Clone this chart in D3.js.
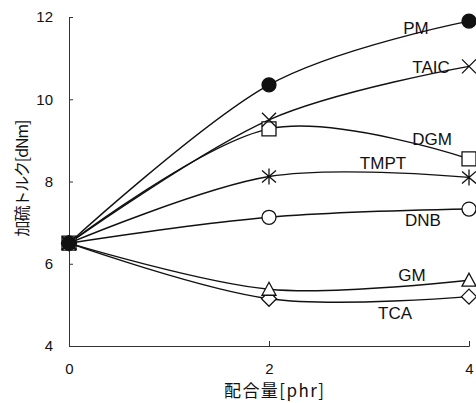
<!DOCTYPE html>
<html>
<head>
<meta charset="utf-8">
<script src="https://cdn.jsdelivr.net/npm/d3@7"></script>
<style>
body { margin: 0; background: #fff; }
svg text { font-family: "Liberation Sans", Arial, sans-serif; fill: #111; }
.jp { font-family: "Noto Sans CJK JP", sans-serif; }
</style>
</head>
<body>
<svg id="chart" width="476" height="403"></svg>
<script>
// compounding amount [phr] vs cure torque [dNm]
var amounts = [0, 2, 4];
var pmValues   = [6.5, 10.35, 11.9];
var taicValues = [6.5, 9.5, 10.8];
var dgmValues  = [6.5, 9.28, 8.55];
var tmptValues = [6.5, 8.12, 8.1];
var dnbValues  = [6.5, 7.13, 7.33];
var gmValues   = [6.5, 5.38, 5.6];
var tcaValues  = [6.5, 5.15, 5.2];
var seriesNames = ["PM", "TAIC", "DGM", "TMPT", "DNB", "GM", "TCA"];
var yTicks = [4, 6, 8, 10, 12];
var xTicks = [0, 2, 4];

var svg = d3.select("#chart");

var x = d3.scaleLinear().domain([0, 4]).range([69, 469]);
var y = d3.scaleLinear().domain([4, 12]).range([346, 17]);

/* marker shapes, drawn around 0,0 */
var markers = {
    filled:   function(p) { p.moveTo(7, 0); p.arc(0, 0, 7, 0, 2 * Math.PI); },
    times:    function(p) { p.moveTo(-7, -7); p.lineTo(7, 7); p.moveTo(7, -7); p.lineTo(-7, 7); },
    square:   function(p) { p.rect(-7, -7, 14, 14); },
    asterisk: function(p) { p.moveTo(-7, -6); p.lineTo(7, 6); p.moveTo(7, -6); p.lineTo(-7, 6);
                            p.moveTo(0, -8); p.lineTo(0, 8); },
    circle:   function(p) { p.moveTo(7, 0); p.arc(0, 0, 7, 0, 2 * Math.PI); },
    triangle: function(p) { p.moveTo(0, -7); p.lineTo(7, 6); p.lineTo(-7, 6); p.closePath(); },
    diamond:  function(p) { p.moveTo(0, -7.5); p.lineTo(7.5, 0); p.lineTo(0, 7.5); p.lineTo(-7.5, 0); p.closePath(); }
};
// which markers go on top where they pile up (at 0 phr)
var markerLayer = {diamond: 0, triangle: 1, circle: 2, square: 3, filled: 4, times: 5, asterisk: 6};

// label spots are given in data units so they follow the scales
var series = [
    {name: seriesNames[0], values: pmValues,   marker: "filled",   lx: 3.47, ly: 11.73},
    {name: seriesNames[1], values: taicValues, marker: "times",    lx: 3.62, ly: 10.78},
    {name: seriesNames[2], values: dgmValues,  marker: "square",   lx: 3.63, ly: 9.03},
    {name: seriesNames[3], values: tmptValues, marker: "asterisk", lx: 3.14, ly: 8.45},
    {name: seriesNames[4], values: dnbValues,  marker: "circle",   lx: 3.54, ly: 7.06},
    {name: seriesNames[5], values: gmValues,   marker: "triangle", lx: 3.43, ly: 5.73},
    {name: seriesNames[6], values: tcaValues,  marker: "diamond",  lx: 3.26, ly: 4.80}
];

/* axes */
var yAxis = svg.append("g")
    .attr("transform", "translate(" + x(0) + ",0)")
    .call(d3.axisLeft(y).tickValues(yTicks).tickFormat(d3.format("d"))
        .tickSize(-4).tickPadding(16));

var xAxis = svg.append("g")
    .attr("transform", "translate(0," + y(4) + ")")
    .call(d3.axisBottom(x).tickValues(xTicks).tickFormat(d3.format("d"))
        .tickSize(-5).tickPadding(17));

[yAxis, xAxis].forEach(function(a) {
    a.selectAll("path, line").attr("stroke", "#333").attr("stroke-width", 1);
    a.selectAll("text").attr("font-size", 15)
        .attr("font-family", "Liberation Sans, Arial, sans-serif").attr("fill", "#111");
});

/* lines */
var line = d3.line()
    .x(function(d, i) { return x(amounts[i]); })
    .y(function(d) { return y(d); })
    .curve(d3.curveCardinal.tension(0));

svg.append("g").selectAll("path")
    .data(series)
    .enter().append("path")
    .attr("d", function(d) { return line(d.values); })
    .attr("fill", "none")
    .attr("stroke", "#111")
    .attr("stroke-width", 1.4);

/* markers */
series.slice().sort(function(a, b) { return markerLayer[a.marker] - markerLayer[b.marker]; })
    .forEach(function(s) {
    svg.append("g").selectAll("path")
        .data(s.values)
        .enter().append("path")
        .attr("transform", function(d, i) {
            return "translate(" + x(amounts[i]) + "," + y(d) + ")";
        })
        .attr("d", function() { var p = d3.path(); markers[s.marker](p); return p.toString(); })
        .attr("fill", s.marker == "filled" ? "#111" : (s.marker == "times" || s.marker == "asterisk" ? "none" : "#fff"))
        .attr("stroke", "#111")
        .attr("stroke-width", 1.3);
});

/* series labels */
svg.append("g").selectAll("text")
    .data(series)
    .enter().append("text")
    .attr("x", function(d) { return x(d.lx); })
    .attr("y", function(d) { return y(d.ly); })
    .attr("dy", "0.36em")
    .attr("text-anchor", "middle")
    .attr("font-size", 17)
    .text(function(d) { return d.name; });

/* axis titles */
svg.append("text")
    .attr("class", "jp")
    .attr("x", 274)
    .attr("y", 397)
    .attr("text-anchor", "middle")
    .attr("font-size", 17)
    .attr("textLength", 100)
    .text("配合量[phr]");

svg.append("text")
    .attr("class", "jp")
    .attr("transform", "translate(28,178) rotate(-90)")
    .attr("text-anchor", "middle")
    .attr("font-size", 16)
    .attr("textLength", 117)
    .text("加硫トルク[dNm]");
</script>
</body>
</html>
